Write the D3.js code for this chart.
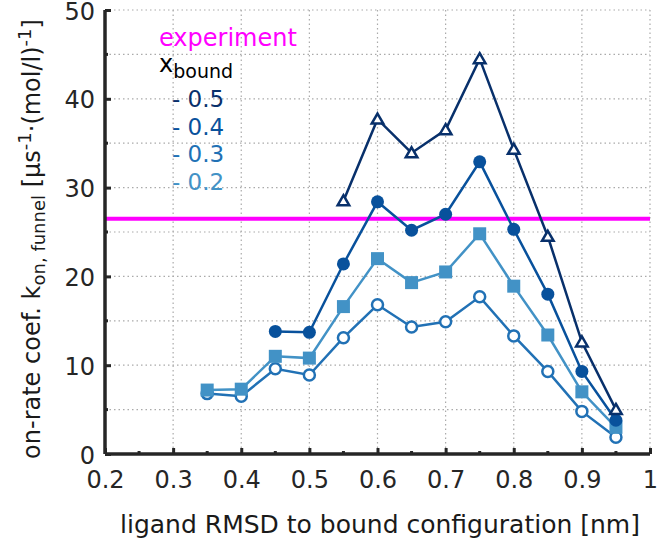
<!DOCTYPE html>
<html><head><meta charset="utf-8">
<script src="https://cdn.jsdelivr.net/npm/d3@7/dist/d3.min.js"></script>
<style>body{margin:0;background:#fff}svg{display:block}text{font-family:"DejaVu Sans",sans-serif}</style>
</head><body>
<svg id="c" width="660" height="539"></svg>
<script>
const xs = [0.35,0.4,0.45,0.5,0.55,0.6,0.65,0.7,0.75,0.8,0.85,0.9,0.95];
const s05 = [null,null,null,null,28.5,37.7,33.9,36.5,44.5,34.3,24.5,12.6,5.0];
const s04 = [null,null,13.8,13.7,21.4,28.4,25.2,27.0,32.9,25.3,18.0,9.3,3.8];
const s03 = [7.2,7.3,11.0,10.8,16.6,22.0,19.3,20.5,24.8,18.9,13.4,7.0,3.0];
const s02 = [6.8,6.5,9.6,8.9,13.1,16.8,14.3,14.9,17.7,13.3,9.3,4.8,1.9];
const experiment = 26.5;
const legendLabels = ["- 0.5","- 0.4","- 0.3","- 0.2"];
const xTicks = [0.2,0.3,0.4,0.5,0.6,0.7,0.8,0.9,1];
const yTicks = [0,10,20,30,40,50];

const svg = d3.select("#c");
const x = d3.scaleLinear().domain([0.2,1]).range([105,650]);
const y = d3.scaleLinear().domain([0,50]).range([454,10]);

// grid
const g = svg.append("g");
d3.range(0,51,5).forEach(v=>g.append("line").attr("x1",105).attr("x2",650).attr("y1",y(v)).attr("y2",y(v))
  .attr("stroke","#aaa").attr("stroke-width",1.2).attr("stroke-dasharray","1.5,3"));
xTicks.forEach(v=>g.append("line").attr("x1",x(v)).attr("x2",x(v)).attr("y1",10).attr("y2",454)
  .attr("stroke","#aaa").attr("stroke-width",1.2).attr("stroke-dasharray","1.5,3"));

// experiment line
svg.append("line").attr("x1",x(0.2)).attr("x2",x(1)).attr("y1",y(experiment)).attr("y2",y(experiment))
  .attr("stroke","#ff00ff").attr("stroke-width",4);

// axes
const ax = "#262626";
const xAxis = d3.axisBottom(x).tickValues(xTicks).tickSize(-6).tickPadding(17).tickFormat(d=>d===1?"1":d3.format(".1f")(d));
const gx = svg.append("g").attr("transform","translate(0,454)").call(xAxis);
const yAxis = d3.axisLeft(y).tickValues(yTicks).tickSize(-6).tickPadding(10);
const gy = svg.append("g").attr("transform","translate(105,0)").call(yAxis);
[gx,gy].forEach(a=>{
  a.select(".domain").attr("stroke",ax).attr("stroke-width",3.5);
  a.selectAll(".tick line").attr("stroke",ax).attr("stroke-width",3);
  a.selectAll(".tick text").attr("fill",ax).attr("font-size",24).attr("font-family","DejaVu Sans");
});
gy.selectAll(".tick text").attr("dy","0.38em");
gx.select(".domain").attr("d","M105,0H650");
gy.select(".domain").attr("d","M0,10V454");
// minor ticks
d3.range(0.25,1,0.1).forEach(v=>svg.append("line").attr("x1",x(v)).attr("x2",x(v)).attr("y1",454).attr("y2",451).attr("stroke",ax).attr("stroke-width",3));
d3.range(5,50,10).forEach(v=>svg.append("line").attr("x1",105).attr("x2",108).attr("y1",y(v)).attr("y2",y(v)).attr("stroke",ax).attr("stroke-width",3));

// series
const series = [
  {d:s02,c:"#2171b5",m:"ocircle"},
  {d:s03,c:"#4292c6",m:"square"},
  {d:s04,c:"#08519c",m:"circle"},
  {d:s05,c:"#08306b",m:"triangle"}
];
const line = d3.line().defined(d=>d[1]!=null).x(d=>x(d[0])).y(d=>y(d[1]));
series.forEach(s=>{
  const pts = xs.map((v,i)=>[v,s.d[i]]);
  svg.append("path").attr("d",line(pts)).attr("fill","none").attr("stroke",s.c).attr("stroke-width",2.5);
  const pp = pts.filter(p=>p[1]!=null);
  const gm = svg.append("g");
  pp.forEach(p=>{
    const cx=x(p[0]), cy=y(p[1]);
    if(s.m==="ocircle") gm.append("circle").attr("cx",cx).attr("cy",cy).attr("r",5.5).attr("fill","#fff").attr("stroke",s.c).attr("stroke-width",2.5);
    else if(s.m==="circle") gm.append("circle").attr("cx",cx).attr("cy",cy).attr("r",6.5).attr("fill",s.c);
    else if(s.m==="square") gm.append("rect").attr("x",cx-6.5).attr("y",cy-6.5).attr("width",13).attr("height",13).attr("fill",s.c);
    else gm.append("path").attr("d",d3.symbol(d3.symbolTriangle,58)()).attr("transform",`translate(${cx},${cy+1})`).attr("fill","#fff").attr("stroke",s.c).attr("stroke-width",2.5);
  });
});

// legend
svg.append("text").attr("x",159).attr("y",46).attr("font-size",24).attr("fill","#ff00ff").text("experiment");
const xb = svg.append("text").attr("x",159).attr("y",72).attr("font-size",24).attr("fill","#000");
xb.append("tspan").text("x");
xb.append("tspan").attr("font-size",19).attr("dy",6).text("bound");
const legCols = ["#08306b","#08519c","#2171b5","#4292c6"];
legendLabels.forEach((t,i)=>svg.append("text").attr("x",172).attr("y",107+i*27.5).attr("font-size",23).attr("fill",legCols[i]).text(t));

// axis labels
svg.append("text").attr("x",380).attr("y",533).attr("text-anchor","middle").attr("font-size",25).attr("fill","#1a1a1a")
  .text("ligand RMSD to bound configuration [nm]");
const yl = svg.append("text").attr("transform","translate(40,239) rotate(-90)").attr("text-anchor","middle").attr("font-size",24).attr("fill","#1a1a1a");
yl.append("tspan").text("on-rate coef. k");
yl.append("tspan").attr("font-size",18).attr("dy",5).text("on, funnel");
yl.append("tspan").attr("dy",-5).text(" [µs");
yl.append("tspan").attr("font-size",18).attr("dy",-9).text("-1");
yl.append("tspan").attr("dy",9).text("·(mol/l)");
yl.append("tspan").attr("font-size",18).attr("dy",-9).text("-1");
yl.append("tspan").attr("dy",9).text("]");
</script>
</body></html>
